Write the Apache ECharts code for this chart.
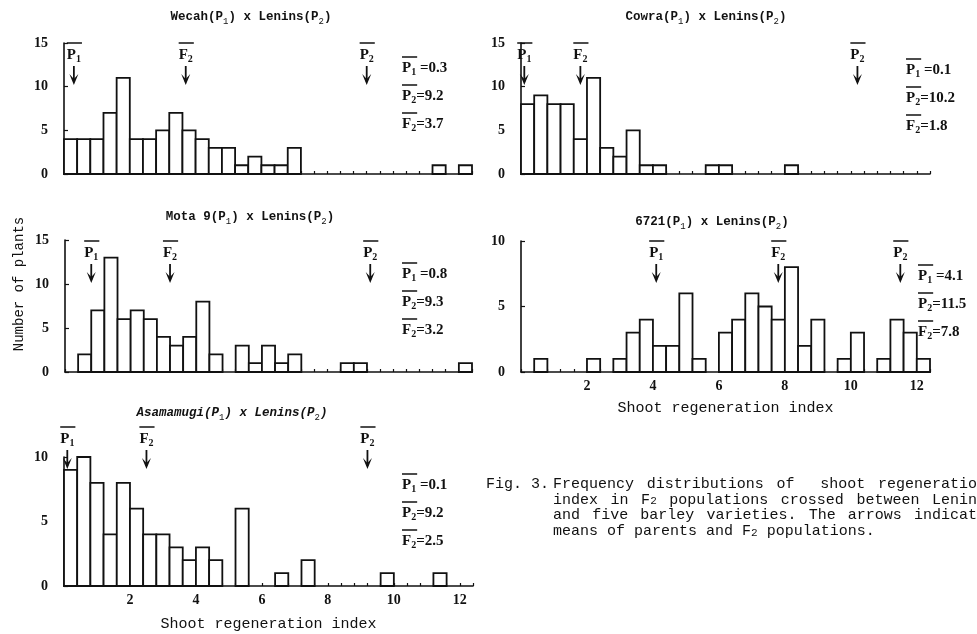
<!DOCTYPE html>
<html>
<head>
<meta charset="utf-8">
<script src="https://cdn.jsdelivr.net/npm/echarts@6/dist/echarts.min.js"></script>
<style>
html,body{margin:0;padding:0;background:#fff;}
#main{width:977px;height:634px;}
</style>
</head>
<body>
<div id="main"></div>
<script>
// histogram bins: 0.4 wide, starting at 0, 31 bins up to 12.4
var binWidth = 0.4;
var xMax = 12.4;
var xTickLabels = [2, 4, 6, 8, 10, 12];

var crossNames = ['Wecah', 'Cowra', 'Mota 9', '6721', 'Asamamugi'];

// number of plants per bin
var wecahCounts = [4,4,4,7,11,4,4,5,7,5,4,3,3,1,2,1,1,3,0,0,0,0,0,0,0,0,0,0,1,0,1];
var cowraCounts = [8,9,8,8,4,11,3,2,5,1,1,0,0,0,1,1,0,0,0,0,1,0,0,0,0,0,0,0,0,0,0];
var motaCounts  = [0,2,7,13,6,7,6,4,3,4,8,2,0,3,1,3,1,2,0,0,0,1,1,0,0,0,0,0,0,0,1];
var c6721Counts = [0,1,0,0,0,1,0,1,3,4,2,2,6,1,0,3,4,6,5,4,8,2,4,0,1,3,0,1,4,3,1];
var asamaCounts = [9,10,8,4,8,6,4,4,3,2,3,2,0,6,0,0,1,0,2,0,0,0,0,0,1,0,0,0,1,0,0];

// means of parents and F2
var p1Means = [0.3, 0.1, 0.8, 4.1, 0.1];
var p2Means = [9.2, 10.2, 9.3, 11.5, 9.2];
var f2Means = [3.7, 1.8, 3.2, 7.8, 2.5];

var yMaxes = [15, 15, 15, 10, 10];

var captionLines = [
	'Frequency distributions of  shoot regeneration',
	'index in F{s|2} populations crossed between Lenins',
	'and five barley varieties. The arrows indicate',
	'means of parents and F{s|2} populations.'
];

// ---- layout (pixels) ----
var panelBoxes = [[64,43,408,131],[521,43,409,131],[65,240,407,132],[521,241,409,131],[64,457,409,129]];
var titlePos   = [[251,17],[706,17],[250,217],[712,222],[232,413]];
var statsPos   = [[402,68],[906,70],[402,274],[918,276],[402,485]];
var arrowTipOffsets = [42,42,43,42,12];

var ink = '#111';
var monoFont = '"Liberation Mono", "DejaVu Sans Mono", monospace';
var numFont = '"Liberation Serif", "DejaVu Serif", serif';

var measureCtx = document.createElement('canvas').getContext('2d');
function textWidth(str, font){
	measureCtx.font = font;
	return measureCtx.measureText(str).width;
}

var letterFont = 'bold 15px ' + numFont;
var subFont = 'bold 10px ' + numFont;
var meanRich = {
	b: {fontFamily: numFont, fontWeight: 'bold', fontSize: 15, lineHeight: 18, fill: ink},
	s: {fontFamily: numFont, fontWeight: 'bold', fontSize: 10, lineHeight: 9, verticalAlign: 'bottom', fill: ink}
};

function renderBar(params, api){
	var n = api.value(1);
	if(!n){
		return null;
	}
	var x0 = api.value(0);
	var a = api.coord([x0, n]);
	var b = api.coord([x0 + binWidth, 0]);
	return {
		type: 'rect',
		shape: {x: a[0], y: a[1], width: b[0] - a[0], height: b[1] - a[1]},
		style: {fill: '#fff', stroke: ink, lineWidth: 1.8}
	};
}

var arrowLetters = ['P', 'F', 'P'];
var arrowSubs = ['1', '2', '2'];

function makeArrowRenderer(tipOff){
	return function(params, api){
		var x = api.coord([api.value(0), 0])[0];
		var k = api.value(1);
		var tip = params.coordSys.y + tipOff;
		var wl = textWidth(arrowLetters[k], letterFont);
		var ws = textWidth(arrowSubs[k], subFont);
		var lx = x - (wl + ws) / 2;
		return {
			type: 'group',
			children: [
				{type: 'line', shape: {x1: x, y1: tip - 19, x2: x, y2: tip - 3}, style: {stroke: ink, lineWidth: 1.8}},
				{type: 'polygon', shape: {points: [[x - 4.5, tip - 11], [x, tip], [x + 4.5, tip - 11], [x, tip - 6]]}, style: {fill: ink}},
				{type: 'text', style: {
					text: '{b|' + arrowLetters[k] + '}{s|' + arrowSubs[k] + '}',
					rich: meanRich, x: lx, y: tip - 30, align: 'left', verticalAlign: 'middle'
				}},
				{type: 'line', shape: {x1: lx, y1: tip - 42, x2: lx + wl + ws + 1, y2: tip - 42}, style: {stroke: ink, lineWidth: 1.5}}
			]
		};
	};
}

var countsByPanel = [wecahCounts, cowraCounts, motaCounts, c6721Counts, asamaCounts];
var grids = [], xAxes = [], yAxes = [], series = [], graphics = [];

panelBoxes.forEach(function(box, i){
	var withLabels = i >= 3;
	grids.push({left: box[0], top: box[1], width: box[2], height: box[3]});
	xAxes.push({
		gridIndex: i, type: 'value', min: 0, max: xMax, interval: binWidth,
		axisLine: {lineStyle: {color: ink, width: 1.6}},
		axisTick: {inside: true, length: 3, lineStyle: {color: ink, width: 1.2}},
		splitLine: {show: false},
		axisLabel: {
			show: withLabels, color: ink, fontFamily: numFont, fontWeight: 'bold', fontSize: 14, margin: 7,
			formatter: function(v){
				var r = Math.round(v);
				return (Math.abs(v - r) < 1e-6 && xTickLabels.indexOf(r) >= 0) ? String(r) : '';
			}
		},
		name: withLabels ? 'Shoot regeneration index' : '',
		nameLocation: 'middle', nameGap: i === 4 ? 31 : 29,
		nameTextStyle: {fontFamily: monoFont, fontSize: 15, color: ink}
	});
	yAxes.push({
		gridIndex: i, type: 'value', min: 0, max: yMaxes[i], interval: 5,
		axisLine: {show: true, lineStyle: {color: ink, width: 1.6}},
		axisTick: {show: true, inside: true, length: 4, lineStyle: {color: ink, width: 1.2}},
		splitLine: {show: false},
		axisLabel: {color: ink, fontFamily: numFont, fontWeight: 'bold', fontSize: 14, margin: 16}
	});
	series.push({
		type: 'custom', xAxisIndex: i, yAxisIndex: i, silent: true, clip: false,
		renderItem: renderBar,
		data: countsByPanel[i].map(function(n, k){ return [k * binWidth, n]; })
	});
	series.push({
		type: 'custom', xAxisIndex: i, yAxisIndex: i, silent: true, clip: false,
		renderItem: makeArrowRenderer(arrowTipOffsets[i]),
		data: [[p1Means[i], 0], [f2Means[i], 1], [p2Means[i], 2]]
	});

	// panel title
	graphics.push({
		type: 'text', x: titlePos[i][0], y: titlePos[i][1], silent: true,
		style: {
			text: crossNames[i] + '(P{s|1}) x Lenins(P{s|2})',
			fontFamily: monoFont, fontSize: 12.5, fontWeight: 'bold', fontStyle: i === 4 ? 'italic' : 'normal',
			lineHeight: 18, fill: ink,
			align: 'center', verticalAlign: 'middle', textAlign: 'center', textVerticalAlign: 'middle',
			rich: {s: {fontFamily: monoFont, fontSize: 9, lineHeight: 9, verticalAlign: 'bottom', fill: ink}}
		}
	});

	// means block on the right of each panel
	var rows = [['P', '1', ' =', p1Means[i]], ['P', '2', '=', p2Means[i]], ['F', '2', '=', f2Means[i]]];
	rows.forEach(function(r, j){
		var sx = statsPos[i][0], sy = statsPos[i][1] + j * 28;
		var w = textWidth(r[0], letterFont) + textWidth(r[1], subFont);
		graphics.push({
			type: 'text', x: sx, y: sy, silent: true,
			style: {
				text: '{b|' + r[0] + '}{s|' + r[1] + '}{b|' + r[2] + r[3].toFixed(1) + '}',
				rich: meanRich, align: 'left', verticalAlign: 'middle', textAlign: 'left', textVerticalAlign: 'middle'
			}
		});
		graphics.push({
			type: 'line', silent: true,
			shape: {x1: sx, y1: sy - 11, x2: sx + w + 1, y2: sy - 11},
			style: {stroke: ink, lineWidth: 1.5}
		});
	});
});

// shared y axis name
graphics.push({
	type: 'text', x: 19, y: 284, rotation: Math.PI / 2, silent: true,
	style: {
		text: 'Number of plants', fontFamily: monoFont, fontSize: 14, fill: ink,
		align: 'center', verticalAlign: 'middle', textAlign: 'center', textVerticalAlign: 'middle'
	}
});

// figure caption; the first three lines run to the right edge, the last is ragged
var capSize = 15, capSub = 11;
var capRich = {s: {fontFamily: monoFont, fontSize: capSub, lineHeight: 8, verticalAlign: 'bottom', fill: ink}};
function capWordWidth(word){
	var parts = word.split(/\{s\|(\d)\}/);
	var w = 0;
	parts.forEach(function(p, k){
		w += textWidth(p, (k % 2 ? capSub : capSize) + 'px ' + monoFont);
	});
	return w;
}
graphics.push({
	type: 'text', x: 486, y: 484, silent: true,
	style: {text: 'Fig. 3.', fontFamily: monoFont, fontSize: capSize, fill: ink, verticalAlign: 'middle', textVerticalAlign: 'middle'}
});
var capLeft = 553, capRight = 986, capTop = 484, capStep = 15.7;
var spaceW = textWidth(' ', capSize + 'px ' + monoFont);
captionLines.forEach(function(line, li){
	var words = line.split(' ');
	var widths = words.map(capWordWidth);
	var natural = widths.reduce(function(a, b){ return a + b; }, 0) + spaceW * (words.length - 1);
	var extra = li < captionLines.length - 1 ? Math.max(0, (capRight - capLeft - natural) / (words.length - 1)) : 0;
	var x = capLeft;
	words.forEach(function(word, k){
		if(word){
			graphics.push({
				type: 'text', x: x, y: capTop + li * capStep, silent: true,
				style: {
					text: word, fontFamily: monoFont, fontSize: capSize, lineHeight: 14, fill: ink,
					verticalAlign: 'middle', textVerticalAlign: 'middle', rich: capRich
				}
			});
		}
		x += widths[k] + spaceW + extra;
	});
});

var chart = echarts.init(document.getElementById('main'), null, {renderer: 'canvas'});
chart.setOption({
	animation: false,
	backgroundColor: '#fff',
	grid: grids,
	xAxis: xAxes,
	yAxis: yAxes,
	series: series,
	graphic: {elements: graphics}
});
</script>
</body>
</html>
